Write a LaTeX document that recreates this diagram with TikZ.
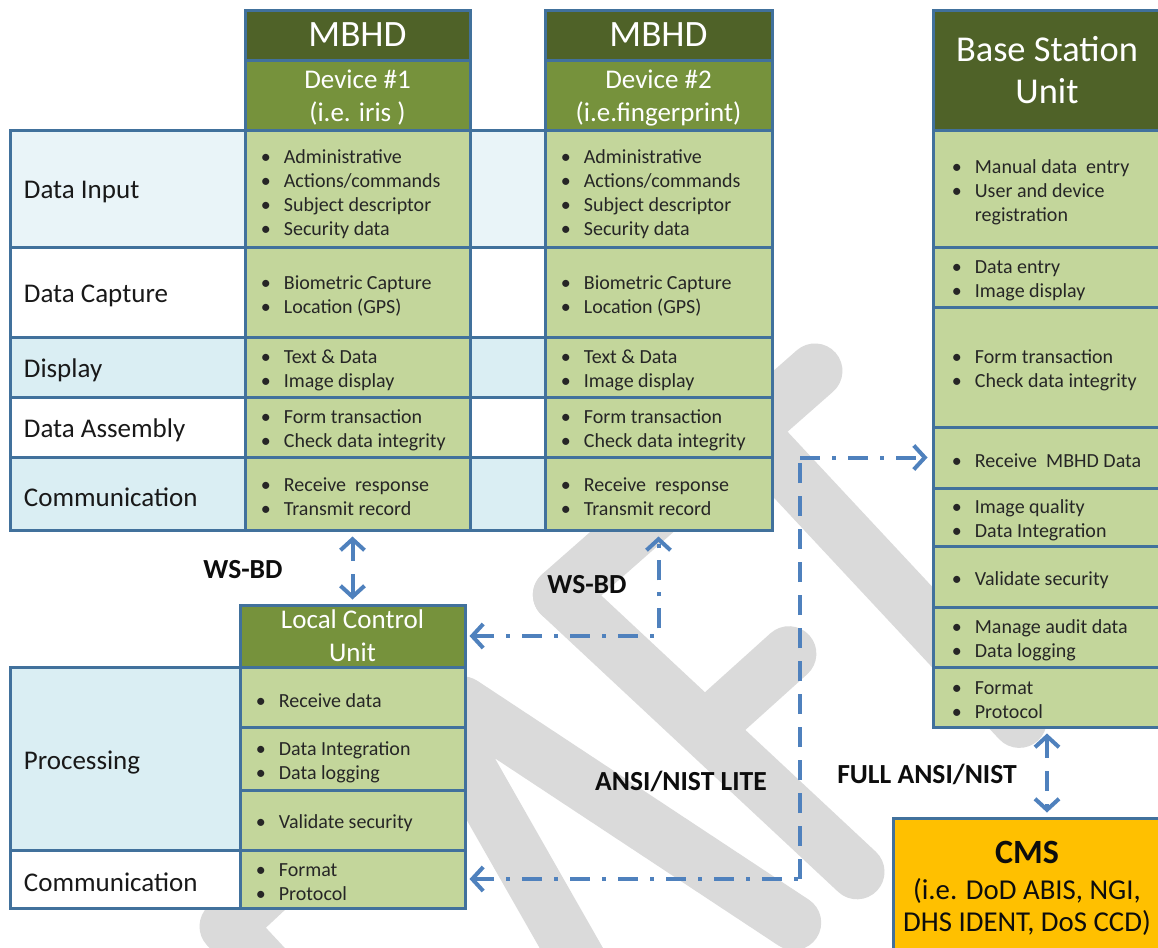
\documentclass[tikz,border=0pt]{standalone}
\usepackage{fontspec}
\setmainfont{Carlito}
\usetikzlibrary{arrows.meta,fit}
\definecolor{bord}{HTML}{41719C}
\definecolor{hdark}{HTML}{4F6228}
\definecolor{holive}{HTML}{76923C}
\definecolor{cellg}{HTML}{C3D69B}
\definecolor{lbA}{HTML}{E9F4F8}
\definecolor{lbB}{HTML}{DAEEF3}
\definecolor{cmsy}{HTML}{FFC000}
\definecolor{lnblue}{HTML}{4F81BD}
\definecolor{wmgray}{HTML}{DADADA}
\newcommand\bitem[1]{\makebox[11.5pt][l]{•}#1}
\newcommand\bcont[1]{\hspace*{11.5pt}#1}
\tikzset{barb/.tip={Straight Barb[length=5.5pt,width=12pt]}}
\begin{document}
\begin{tikzpicture}[x=0.5pt,y=-0.5pt,
  box/.style={draw=bord, line width=1.5pt, inner sep=0pt},
  cell/.style={box, fill=cellg},
  hdr/.style={box, fill=hdark},
  subhdr/.style={box, fill=holive},
  hdrT/.style={inner sep=0pt, text=white, align=center, font=\fontsize{18.6}{21}\selectfont},
  hdrB/.style={inner sep=0pt, text=white, align=center, font=\fontsize{18.2}{21}\selectfont},
  subT/.style={inner sep=0pt, text=white, align=center, font=\fontsize{13.5}{16.5}\selectfont},
  lst/.style={anchor=west, inner sep=0pt, align=left, text=black!85, yshift=-1.8pt, font=\fontsize{10}{12}\selectfont},
  rowlab/.style={anchor=west, inner sep=0pt, text=black!90, yshift=-1.8pt, font=\fontsize{13.5}{16}\selectfont},
  lbl/.style={inner sep=0pt, text=black!95, font=\bfseries\fontsize{13.8}{16}\selectfont},
  conn/.style={draw=lnblue, line width=2pt, dash pattern=on 10pt off 6pt on 2pt off 6pt},
  connd/.style={draw=lnblue, line width=2pt, dash pattern=on 10pt off 6.5pt},
  wm/.style={draw=wmgray, line width=27.5pt, line cap=round, line join=round}
]
\fill[white] (0,0) rectangle (1158,948);
\useasboundingbox (0,0) rectangle (1158,948);

% watermark
\begin{scope}[shift={(800,925)}, x={(0.3655pt,0.341pt)}, y={(-0.341pt,0.3655pt)}]
  \draw[wm] (-216,0) -- (-123,392) -- (-96,392) -- (-3,6);
  \draw[wm] (78,0) -- (50,405);
  \draw[wm] (50,405) -- (389,395);
  \draw[wm] (64,208) -- (177,206);
  \draw[wm] (300,0) -- (300,400);
  \draw[wm] (-420,0) -- (-420,390) -- (-350,390);
\end{scope}

% left label column (top)
\node[box, fill=lbA, fit={(10,130)(245,247)}] (lDI) {};
\node[rowlab] (lDIt) at ([xshift=7.5pt]lDI.west) {Data Input};
\node[box, fill=white, fit={(10,247)(245,337)}] (lDC) {};
\node[rowlab] (lDCt) at ([xshift=7.5pt]lDC.west) {Data Capture};
\node[box, fill=lbB, fit={(10,337)(245,397)}] (lDS) {};
\node[rowlab] (lDSt) at ([xshift=7.5pt]lDS.west) {Display};
\node[box, fill=white, fit={(10,397)(245,457)}] (lDA) {};
\node[rowlab] (lDAt) at ([xshift=7.5pt]lDA.west) {Data Assembly};
\node[box, fill=lbB, fit={(10,457)(245,530)}] (lCO) {};
\node[rowlab] (lCOt) at ([xshift=7.5pt]lCO.west) {Communication};

% gap column
\node[box, fill=lbA, fit={(470,130)(545,247)}] (gDI) {};
\node[box, fill=white, fit={(470,247)(545,337)}] (gDC) {};
\node[box, fill=lbB, fit={(470,337)(545,397)}] (gDS) {};
\node[box, fill=white, fit={(470,397)(545,457)}] (gDA) {};
\node[box, fill=lbB, fit={(470,457)(545,530)}] (gCO) {};

% device 1
\node[hdr, fit={(245,10)(470,60)}] (d1h) {};
\node[hdrT] (d1hT) at (d1h.center) {MBHD};
\node[subhdr, fit={(245,60)(470,130)}] (d1s) {};
\node[subT, yshift=-1.5pt] (d1sT) at (d1s.center) {Device \#1\\(i.e. iris )};
\node[cell, fit={(245,130)(470,247)}] (d1a) {};
\node[lst, yshift=-1pt] (d1aT) at ([xshift=8.5pt]d1a.west) {\bitem{Administrative}\\\bitem{Actions/commands}\\\bitem{Subject descriptor}\\\bitem{Security data}};
\node[cell, fit={(245,247)(470,337)}] (d1b) {};
\node[lst] (d1bT) at ([xshift=8.5pt]d1b.west) {\bitem{Biometric Capture}\\\bitem{Location (GPS)}};
\node[cell, fit={(245,337)(470,397)}] (d1c) {};
\node[lst] (d1cT) at ([xshift=8.5pt]d1c.west) {\bitem{Text \& Data}\\\bitem{Image display}};
\node[cell, fit={(245,397)(470,457)}] (d1d) {};
\node[lst] (d1dT) at ([xshift=8.5pt]d1d.west) {\bitem{Form transaction}\\\bitem{Check data integrity}};
\node[cell, fit={(245,457)(470,530)}] (d1e) {};
\node[lst] (d1eT) at ([xshift=8.5pt]d1e.west) {\bitem{Receive\ \ response}\\\bitem{Transmit record}};

% device 2
\node[hdr, fit={(545,10)(772,60)}] (d2h) {};
\node[hdrT] (d2hT) at (d2h.center) {MBHD};
\node[subhdr, fit={(545,60)(772,130)}] (d2s) {};
\node[subT, yshift=-1.5pt] (d2sT) at (d2s.center) {Device \#2\\(i.e.fingerprint)};
\node[cell, fit={(545,130)(772,247)}] (d2a) {};
\node[lst, yshift=-1pt] (d2aT) at ([xshift=8.5pt]d2a.west) {\bitem{Administrative}\\\bitem{Actions/commands}\\\bitem{Subject descriptor}\\\bitem{Security data}};
\node[cell, fit={(545,247)(772,337)}] (d2b) {};
\node[lst] (d2bT) at ([xshift=8.5pt]d2b.west) {\bitem{Biometric Capture}\\\bitem{Location (GPS)}};
\node[cell, fit={(545,337)(772,397)}] (d2c) {};
\node[lst] (d2cT) at ([xshift=8.5pt]d2c.west) {\bitem{Text \& Data}\\\bitem{Image display}};
\node[cell, fit={(545,397)(772,457)}] (d2d) {};
\node[lst] (d2dT) at ([xshift=8.5pt]d2d.west) {\bitem{Form transaction}\\\bitem{Check data integrity}};
\node[cell, fit={(545,457)(772,530)}] (d2e) {};
\node[lst] (d2eT) at ([xshift=8.5pt]d2e.west) {\bitem{Receive\ \ response}\\\bitem{Transmit record}};

% base station
\node[hdr, fit={(933,10)(1161,130)}] (bh) {};
\node[hdrB] (bhT) at (bh.center) {Base Station\\Unit};
\node[cell, fit={(933,130)(1161,247)}] (b1) {};
\node[lst] (b1T) at ([xshift=10pt]b1.west) {\bitem{Manual data\ \ entry}\\\bitem{User and device}\\\bcont{registration}};
\node[cell, fit={(933,247)(1161,307)}] (b2) {};
\node[lst] (b2T) at ([xshift=10pt]b2.west) {\bitem{Data entry}\\\bitem{Image display}};
\node[cell, fit={(933,307)(1161,427)}] (b3) {};
\node[lst] (b3T) at ([xshift=10pt]b3.west) {\bitem{Form transaction}\\\bitem{Check data integrity}};
\node[cell, fit={(933,427)(1161,488)}] (b4) {};
\node[lst] (b4T) at ([xshift=10pt]b4.west) {\bitem{Receive\ \ MBHD Data}};
\node[cell, fit={(933,488)(1161,546)}] (b5) {};
\node[lst] (b5T) at ([xshift=10pt]b5.west) {\bitem{Image quality}\\\bitem{Data Integration}};
\node[cell, fit={(933,546)(1161,607)}] (b6) {};
\node[lst] (b6T) at ([xshift=10pt]b6.west) {\bitem{Validate security}};
\node[cell, fit={(933,607)(1161,667)}] (b7) {};
\node[lst] (b7T) at ([xshift=10pt]b7.west) {\bitem{Manage audit data}\\\bitem{Data logging}};
\node[cell, fit={(933,667)(1161,727)}] (b8) {};
\node[lst] (b8T) at ([xshift=10pt]b8.west) {\bitem{Format}\\\bitem{Protocol}};

% local control unit
\node[box, fill=lbB, fit={(10,667)(240,850)}] (lP) {};
\node[rowlab] (lPt) at ([xshift=7.5pt]lP.west) {Processing};
\node[box, fill=white, fit={(10,850)(240,908)}] (lC2) {};
\node[rowlab] (lC2t) at ([xshift=7.5pt]lC2.west) {Communication};
\node[subhdr, fit={(240,605)(465,667)}] (lh) {};
\node[subT] (lhT) at (lh.center) {Local Control\\Unit};
\node[cell, fit={(240,667)(465,727)}] (l1) {};
\node[lst] (l1T) at ([xshift=8.5pt]l1.west) {\bitem{Receive data}};
\node[cell, fit={(240,727)(465,790)}] (l2) {};
\node[lst] (l2T) at ([xshift=8.5pt]l2.west) {\bitem{Data Integration}\\\bitem{Data logging}};
\node[cell, fit={(240,790)(465,850)}] (l3) {};
\node[lst] (l3T) at ([xshift=8.5pt]l3.west) {\bitem{Validate security}};
\node[cell, fit={(240,850)(465,908)}] (l4) {};
\node[lst] (l4T) at ([xshift=8.5pt]l4.west) {\bitem{Format}\\\bitem{Protocol}};

% CMS
\node[box, fill=cmsy, fit={(893,818)(1165,960)}] (cms) {};
\node[inner sep=0pt, font=\bfseries\fontsize{17}{20}\selectfont, text=black!95] (cmsT) at (1027,852) {CMS};
\node[inner sep=0pt, align=center, font=\fontsize{14.4}{16}\selectfont, text=black!95] (cmsS) at (1027,907) {(i.e. DoD ABIS, NGI,\\DHS IDENT, DoS CCD)};

% connectors
\draw[connd, barb-barb, shorten <=2.5pt, shorten >=2pt] (lh.north |- d1e.south) -- (lh.north);
\draw[conn, barb-barb, shorten <=1.5pt, shorten >=2.5pt] (lh.east) -| (d2e.south);
\coordinate (c3x) at (800,0);
\coordinate (c3a) at (c3x |- l4.east);
\coordinate (c3b) at (c3x |- b4.west);
\draw[conn, barb-, shorten <=1.5pt] (l4.east) -- (c3a);
\draw[connd] (c3a) -- (c3b);
\draw[conn, -barb, shorten >=2pt] (c3b) -- (b4.west);
\draw[connd, barb-barb, shorten <=2.5pt, shorten >=2pt] (b8.south) -- (b8.south |- cms.north);

% labels
\node[lbl] (ws1) at (243,570) {WS-BD};
\node[lbl] (ws2) at (587,585) {WS-BD};
\node[lbl] (an1) at (681,781) {ANSI/NIST LITE};
\node[lbl] (an2) at (927,774) {FULL ANSI/NIST};
\end{tikzpicture}
\end{document}
